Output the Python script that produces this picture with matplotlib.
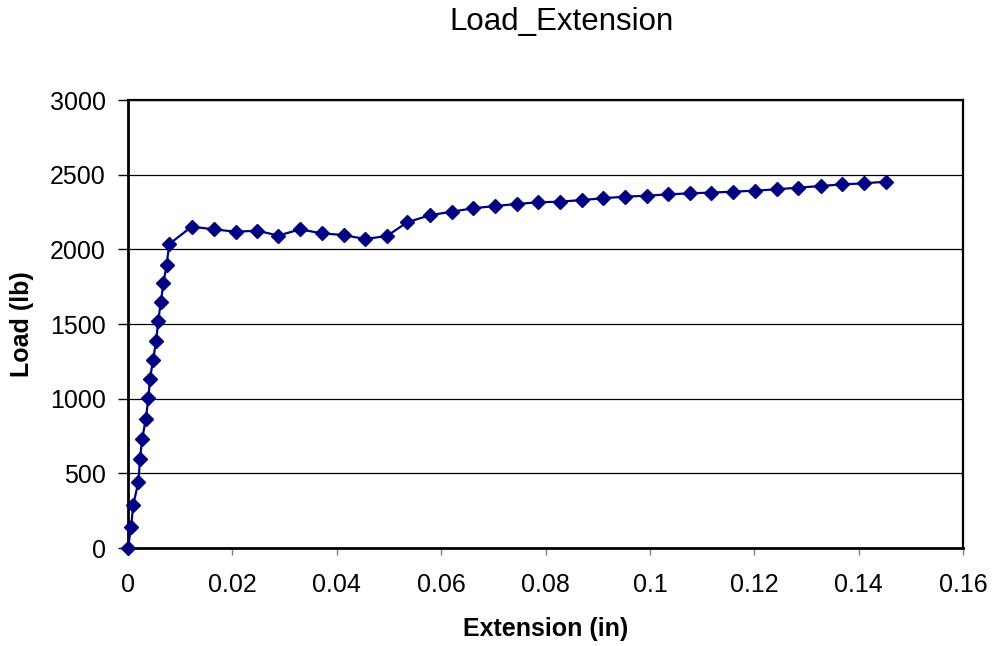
import matplotlib
matplotlib.use('Agg')
import matplotlib.pyplot as plt

plt.rcParams['font.family'] = ['Liberation Sans', 'DejaVu Sans']

# extension (in) and load (lb) readings from the tensile test
extension = [0.0, 0.0006, 0.001, 0.002, 0.0023, 0.0027, 0.0034, 0.0039, 0.0042,
             0.0048, 0.0054, 0.0058, 0.0063, 0.0068, 0.0074, 0.0079,
             0.0122, 0.0164, 0.0207, 0.0248, 0.0288, 0.0330, 0.0371, 0.0413,
             0.0454, 0.0496, 0.0535, 0.0578, 0.0620, 0.0662, 0.0703, 0.0746,
             0.0786, 0.0828, 0.0869, 0.0911, 0.0952, 0.0994, 0.1035, 0.1077,
             0.1118, 0.1160, 0.1201, 0.1243, 0.1284, 0.1327, 0.1369, 0.1411,
             0.1452]
load = [0, 143, 288, 444, 594, 728, 862, 1002, 1130,
        1259, 1388, 1522, 1649, 1777, 1895, 2035,
        2152, 2134, 2118, 2125, 2092, 2134, 2107, 2096,
        2069, 2089, 2181, 2228, 2252, 2275, 2290, 2304,
        2315, 2319, 2330, 2342, 2353, 2359, 2368, 2375,
        2380, 2386, 2393, 2402, 2413, 2424, 2435, 2442,
        2453]

x_ticks = [0, 0.02, 0.04, 0.06, 0.08, 0.1, 0.12, 0.14, 0.16]
x_labels = ['0', '0.02', '0.04', '0.06', '0.08', '0.1', '0.12', '0.14', '0.16']
y_ticks = [0, 500, 1000, 1500, 2000, 2500, 3000]

fig = plt.figure(figsize=(9.92, 6.46), dpi=100)
ax = fig.add_axes([128 / 992, 98 / 646, 835 / 992, 448 / 646])

ax.plot(extension, load, color='#000080', linewidth=1.6, marker='D',
        markersize=7.3, markerfacecolor='#000080', markeredgecolor='#000080',
        zorder=3, clip_on=False)

ax.set_xlim(0, 0.16)
ax.set_ylim(0, 3000)
ax.set_xticks(x_ticks)
ax.set_xticklabels(x_labels)
ax.set_yticks(y_ticks)
ax.yaxis.grid(True, color='black', linewidth=0.9)
ax.set_axisbelow(True)

for side in ['left', 'bottom']:
    ax.spines[side].set_linewidth(2)
for side in ['top', 'right']:
    ax.spines[side].set_linewidth(1.6)

ax.tick_params(axis='both', direction='out', labelsize=18, width=1, colors='black')
ax.tick_params(axis='x', length=5, pad=13, color='#808080')
ax.tick_params(axis='y', length=7, pad=9)

ax.set_xlabel('Extension (in)', fontsize=18, fontweight='bold', va='center')
ax.xaxis.set_label_coords(0.5, (548 - 629) / 448)
ax.set_ylabel('Load (lb)', fontsize=18, fontweight='bold', va='center')
ax.yaxis.set_label_coords((22 - 128) / 835, 0.5)

fig.text(561 / 992, 1 - 22 / 646, 'Load_Extension', fontsize=22.5,
         ha='center', va='center')

fig.savefig('out.png', dpi=100)
